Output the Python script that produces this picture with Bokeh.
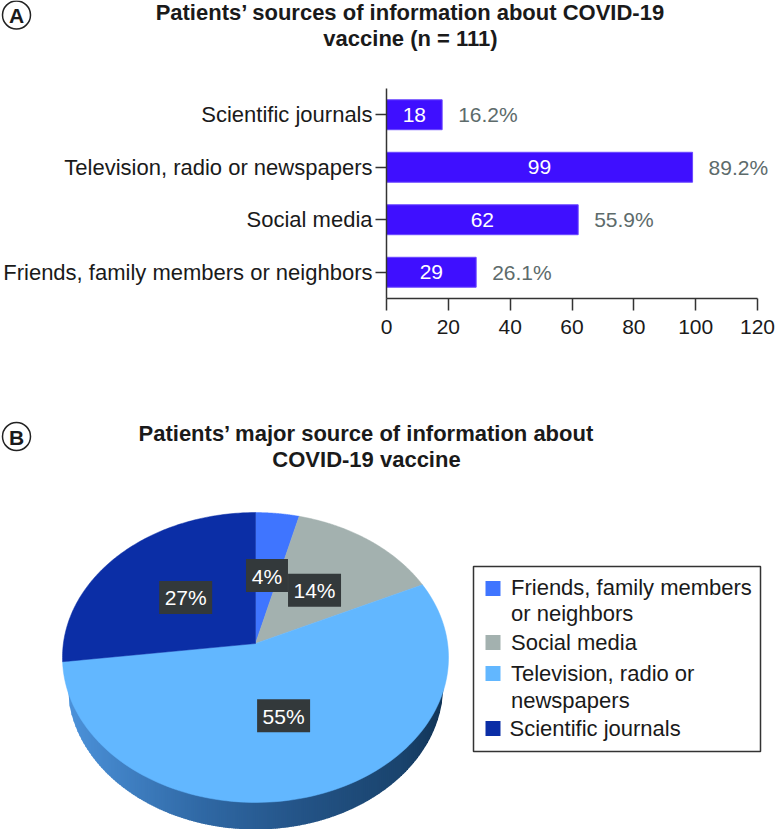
import numpy as np
from bokeh.plotting import figure
from bokeh.layouts import column
from bokeh.models import ColumnDataSource, FactorRange, Range1d, FixedTicker, LabelSet
from bokeh.core.properties import value
from bokeh.embed import file_html
from bokeh.resources import INLINE

# ---------- data ----------
bar_categories = ["Friends, family members or neighbors", "Social media",
                  "Television, radio or newspapers", "Scientific journals"]
bar_counts = [29, 62, 99, 18]
bar_percent_labels = ["26.1%", "55.9%", "89.2%", "16.2%"]
x_ticks = [0, 20, 40, 60, 80, 100, 120]

pie_names = ["Friends, family members or neighbors", "Social media",
             "Television, radio or newspapers", "Scientific journals"]
pie_values = [4, 14, 55, 27]
pie_labels = ["4%", "14%", "55%", "27%"]
pie_colors = ["#3F75FF", "#A3B1AF", "#62B7FF", "#0B2EA6"]
legend_lines = [["Friends, family members", "or neighbors"], ["Social media"],
                ["Television, radio or", "newspapers"], ["Scientific journals"]]

title_a = ["Patients\u2019 sources of information about COVID-19", "vaccine (n = 111)"]
title_b = ["Patients\u2019 major source of information about", "COVID-19 vaccine"]

FONT = "Liberation Sans"
INK = "#1A1A1A"
H_TOP, H_BAR = 80, 320


def pixel_figure(y0, y1):
    f = figure(width=775, height=y1 - y0, output_backend="svg", toolbar_location=None,
               x_range=Range1d(0, 775), y_range=Range1d(y1, y0), min_border=0, frame_align=False)
    f.outline_line_color = None
    f.grid.visible = False
    f.axis.visible = False
    return f


def panel_letter(f, x, y, letter):
    f.ellipse(x=[x], y=[y], width=[28], height=[28], fill_color="white", line_color="#222222", line_width=1.5)
    f.text(x=[x], y=[y + 0.5], text=[letter], text_color=INK, text_font=value(FONT), text_font_style="bold",
           text_font_size="21px", text_align="center", text_baseline="middle")


def two_line_title(f, x, ys, lines):
    f.text(x=[x, x], y=ys, text=lines, text_color=INK, text_font=value(FONT), text_font_style="bold",
           text_font_size="22px", text_align="center", text_baseline="middle")


# ---------- title strip ----------
pt = pixel_figure(0, H_TOP)
panel_letter(pt, 16, 14.5, "A")
two_line_title(pt, 410, [12, 38], title_a)

# ---------- panel A ----------
# the frame runs to the page edge so the labels beyond the last tick stay visible
pa = figure(width=775, height=H_BAR, output_backend="svg", toolbar_location=None,
            x_range=Range1d(0, 120 * 389 / 371), y_range=FactorRange(factors=bar_categories),
            min_border_left=386, min_border_right=0, min_border_top=88 - H_TOP,
            min_border_bottom=H_TOP + H_BAR - 298, frame_align=False)
pa.outline_line_color = None
pa.grid.visible = False
src = ColumnDataSource(dict(cat=bar_categories, n=bar_counts, mid=[v / 2 for v in bar_counts],
                            pct=bar_percent_labels, txt=[str(v) for v in bar_counts]))
pa.hbar(y="cat", right="n", left=0, height=0.57, source=src,
        fill_color="#3F0FFF", line_color="#6A48FF", line_width=1)
pa.add_layout(LabelSet(x="mid", y="cat", text="txt", source=src, text_color="white",
                       text_font=value(FONT), text_font_size="21px",
                       text_align="center", text_baseline="middle"))
pa.add_layout(LabelSet(x="n", y="cat", text="pct", source=src, x_offset=16, text_color="#5D6B6B",
                       text_font=value(FONT), text_font_size="21px",
                       text_align="left", text_baseline="middle"))
for ax in (pa.xaxis[0], pa.yaxis[0]):
    ax.axis_line_color = "#333333"
    ax.axis_line_width = 1.5
    ax.major_tick_line_color = "#333333"
    ax.major_tick_line_width = 1.5
    ax.major_tick_in = 0
    ax.minor_tick_line_color = None
    ax.major_label_text_font = FONT
    ax.major_label_text_color = INK
pa.xaxis[0].major_label_text_font_size = "21px"
pa.yaxis[0].major_label_text_font_size = "22px"
pa.xaxis[0].ticker = FixedTicker(ticks=x_ticks)
pa.xaxis[0].bounds = (0, 120)
pa.xaxis[0].major_tick_out = 12
pa.xaxis[0].major_label_standoff = 9
pa.yaxis[0].major_tick_out = 11
pa.yaxis[0].major_label_standoff = 3

# ---------- panel B : data units are page pixels ----------
pb = pixel_figure(H_TOP + H_BAR, 829)

CX, APEX_Y, RB, RA, K = 255.0, 643.0, 192.1, 143.6, 0.0966


def project(theta, r=1.0):
    u, v = r * np.sin(theta), r * np.cos(theta)
    d = 1 + K * v
    return CX + RB * u / d, APEX_Y - RA * v / d


def rim_bottom(x):
    return 684 + 145 * np.sqrt(np.clip(1 - ((x - CX) / 188.0) ** 2, 0, 1))


# rim, shaded from left to right
stops_x = [67, 200, 300, 400, 443]
stops_rgb = np.array([[76, 146, 218], [48, 105, 165], [36, 84, 135], [26, 68, 110], [18, 52, 86]])
xs = np.arange(67, 443, 2.0)
rgb = np.stack([np.interp(xs, stops_x, stops_rgb[:, i]) for i in range(3)], axis=1)
cols = ["#%02x%02x%02x" % tuple(int(c) for c in row) for row in rgb]
pb.patches([[x, x + 2.5, x + 2.5, x] for x in xs],
           [[660, 660, rim_bottom(x + 2.5), rim_bottom(x)] for x in xs],
           fill_color=cols, line_color=None)

# slices
frac = np.cumsum([0] + pie_values) / sum(pie_values) * 2 * np.pi
for a0, a1, col in zip(frac[:-1], frac[1:], pie_colors):
    px, py = project(np.linspace(a0, a1, 120))
    pb.patch(np.r_[CX, px], np.r_[APEX_Y, py], fill_color=col, line_color=col, line_width=0.5)

# value boxes
mid = (frac[:-1] + frac[1:]) / 2
bx, by = project(mid, 0.5)
order = [1, 0, 2, 3]
pb.rect(x=bx[order], y=by[order], width=[42 if pie_labels[i] == "4%" else 53 for i in order], height=33,
        fill_color="#33393B", line_color=None)
pb.text(x=bx, y=by + 0.5, text=pie_labels, text_color="white", text_font=value(FONT),
        text_font_size="21px", text_align="center", text_baseline="middle")

# legend
pb.quad(left=[473], right=[760], top=[566], bottom=[751], fill_color="white",
        line_color="#333333", line_width=1.5)
sw_y = [588, 642, 673, 728]
line_y = [[587, 613], [642], [673, 700], [728]]
text_x = [510.5, 510.5, 510.5, 509]
pb.rect(x=[492.5] * 4, y=sw_y, width=15, height=15, fill_color=pie_colors, line_color=None)
for lines, ys, tx in zip(legend_lines, line_y, text_x):
    pb.text(x=[tx] * len(lines), y=ys, text=lines, text_color=INK, text_font=value(FONT),
            text_font_size="22px", text_align="left", text_baseline="middle")

two_line_title(pb, 366, [433, 459], title_b)
panel_letter(pb, 16, 436, "B")

layout = column(pt, pa, pb, spacing=0)
open("out.html", "w").write(file_html(layout, INLINE))
